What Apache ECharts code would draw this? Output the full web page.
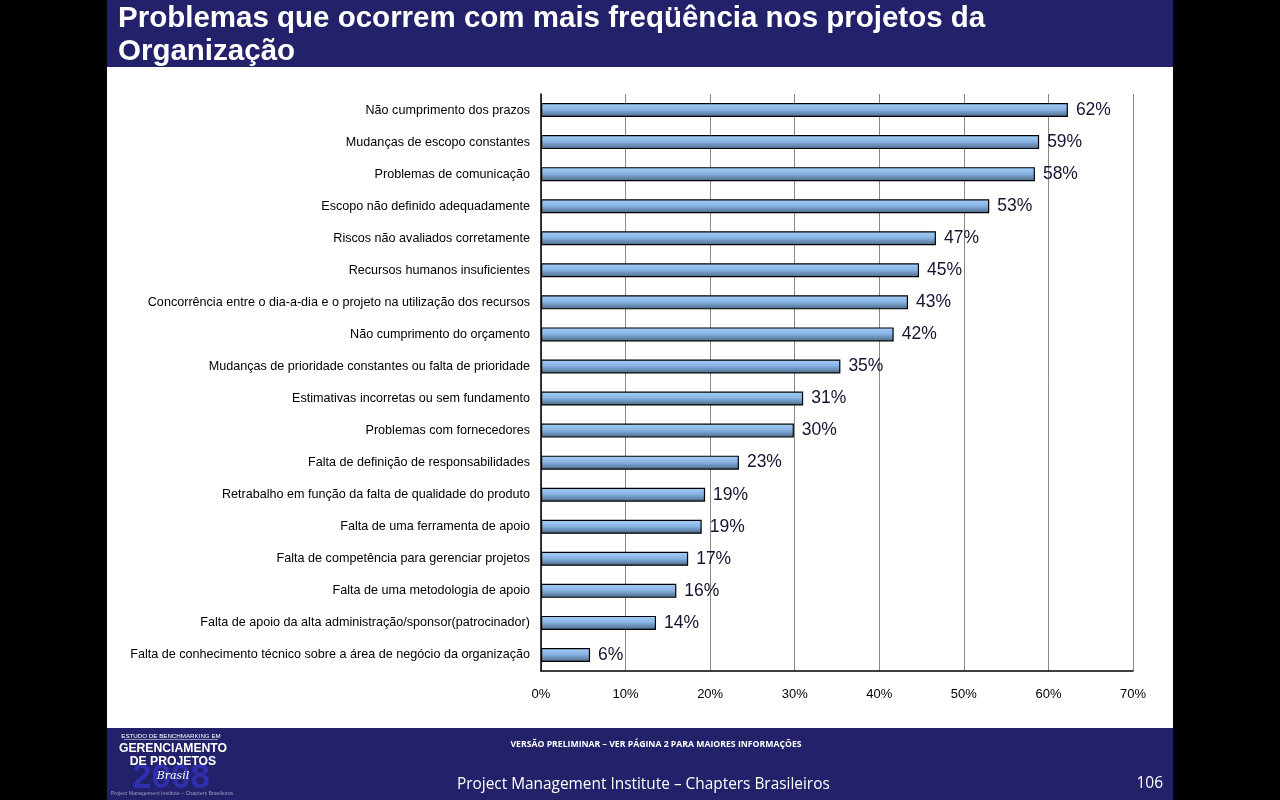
<!DOCTYPE html>
<html><head><meta charset="utf-8">
<script src="https://cdn.jsdelivr.net/npm/echarts@6/dist/echarts.min.js"></script>
<style>html,body{margin:0;padding:0;background:#000}#c{width:1280px;height:800px}</style>
</head><body><div id="c"></div>
<script>
const categories = [
  "Não cumprimento dos prazos",
  "Mudanças de escopo constantes",
  "Problemas de comunicação",
  "Escopo não definido adequadamente",
  "Riscos não avaliados corretamente",
  "Recursos humanos insuficientes",
  "Concorrência entre o dia-a-dia e o projeto na utilização dos recursos",
  "Não cumprimento do orçamento",
  "Mudanças de prioridade constantes ou falta de prioridade",
  "Estimativas incorretas ou sem fundamento",
  "Problemas com fornecedores",
  "Falta de definição de responsabilidades",
  "Retrabalho em função da falta de qualidade do produto",
  "Falta de uma ferramenta de apoio",
  "Falta de competência para gerenciar projetos",
  "Falta de uma metodologia de apoio",
  "Falta de apoio da alta administração/sponsor(patrocinador)",
  "Falta de conhecimento técnico sobre a área de negócio da organização"
];
const values = [62.3, 58.9, 58.4, 53.0, 46.7, 44.7, 43.4, 41.7, 35.4, 31.0, 29.9, 23.4, 19.4, 19.0, 17.4, 16.0, 13.6, 5.8];
const valueLabels = ["62%","59%","58%","53%","47%","45%","43%","42%","35%","31%","30%","23%","19%","19%","17%","16%","14%","6%"];
const xTicks = [0, 10, 20, 30, 40, 50, 60, 70];

const titleText = "Problemas que ocorrem com mais freqüência nos projetos da\nOrganização";
const navy = "#22216a";

const chart = echarts.init(document.getElementById('c'));
chart.setOption({
  backgroundColor: '#000',
  animation: false,
  grid: { left: 541, right: 147, top: 94, bottom: 129, containLabel: false },
  graphic: [
    { type: 'rect', shape: { x: 107, y: 0, width: 1066, height: 67 }, style: { fill: navy }, z: -10 },
    { type: 'rect', shape: { x: 107, y: 67, width: 1066, height: 661 }, style: { fill: '#fff' }, z: -10 },
    { type: 'rect', shape: { x: 107, y: 728, width: 1066, height: 72 }, style: { fill: navy }, z: -10 },
    { type: 'text', left: 118, top: 2, style: { text: titleText, fill: '#fff', font: 'bold 29.5px "Liberation Sans", Arial, sans-serif', lineHeight: 33 } },
    { type: 'text', x: 656, y: 745, style: { text: 'VERSÃO PRELIMINAR – VER PÁGINA 2 PARA MAIORES INFORMAÇÕES', fill: '#fff', font: 'bold 8.7px "Open Sans", sans-serif', align: 'center', verticalAlign: 'middle' } },
    { type: 'text', x: 457, y: 785, style: { text: 'Project Management Institute – Chapters Brasileiros', fill: '#fff', font: '15.4px "Open Sans", sans-serif', align: 'left', verticalAlign: 'middle' } },
    { type: 'text', x: 1163, y: 784, style: { text: '106', fill: '#fff', font: '15.5px "Open Sans", sans-serif', align: 'right', verticalAlign: 'middle' } },
    // logo
    { type: 'text', x: 171, y: 736, style: { text: 'ESTUDO DE BENCHMARKING EM', fill: '#fff', font: '6.2px "Liberation Sans", sans-serif', align: 'center', verticalAlign: 'middle' } },
    { type: 'rect', shape: { x: 124, y: 739, width: 94, height: 0.6 }, style: { fill: '#fff' } },
    { type: 'text', x: 171, y: 778, style: { text: '2008', fill: '#2f2fae', font: 'bold 35px "Liberation Sans", sans-serif', align: 'center', verticalAlign: 'middle' } },
    { type: 'text', x: 173, y: 749, style: { text: 'GERENCIAMENTO', fill: '#fff', font: 'bold 12.2px "Liberation Sans", sans-serif', align: 'center', verticalAlign: 'middle' } },
    { type: 'text', x: 173, y: 762, style: { text: 'DE PROJETOS', fill: '#fff', font: 'bold 12.2px "Liberation Sans", sans-serif', align: 'center', verticalAlign: 'middle' } },
    { type: 'text', x: 173, y: 776, style: { text: 'Brasil', fill: '#fff', font: 'italic 11px "DejaVu Serif", serif', align: 'center', verticalAlign: 'middle' } },
    { type: 'text', x: 172, y: 794, style: { text: 'Project Management Institute – Chapters Brasileiros', fill: '#9a9ac0', font: '5.3px "Liberation Sans", sans-serif', align: 'center', verticalAlign: 'middle' } }
  ],
  xAxis: {
    type: 'value', min: 0, max: 70, interval: 10,
    axisLine: { show: true, lineStyle: { color: '#000', width: 1.5 } },
    axisTick: { show: false },
    splitLine: { show: true, lineStyle: { color: '#888', width: 1 } },
    axisLabel: {
      color: '#000', fontSize: 13, margin: 17,
      fontFamily: '"Liberation Sans", Arial, sans-serif',
      formatter: v => (xTicks.includes(v) ? v + '%' : '')
    }
  },
  yAxis: {
    type: 'category', data: categories, inverse: true,
    axisLine: { show: true, lineStyle: { color: '#000', width: 1.5 } },
    axisTick: { show: false },
    axisLabel: { color: '#000', fontSize: 12.6, margin: 11, fontFamily: '"Liberation Sans", Arial, sans-serif' }
  },
  series: [{
    type: 'bar', data: values, barWidth: 14,
    itemStyle: {
      borderColor: '#000', borderWidth: 1.2,
      color: new echarts.graphic.LinearGradient(0, 0, 0, 1, [
        { offset: 0, color: '#a6cffa' },
        { offset: 0.45, color: '#89b5e5' },
        { offset: 1, color: '#4a6685' }
      ])
    },
    label: {
      show: true, position: 'right', distance: 8,
      color: '#141433', fontSize: 17.5, fontFamily: '"Liberation Sans", Arial, sans-serif',
      formatter: p => valueLabels[p.dataIndex]
    }
  }]
});
</script></body></html>
